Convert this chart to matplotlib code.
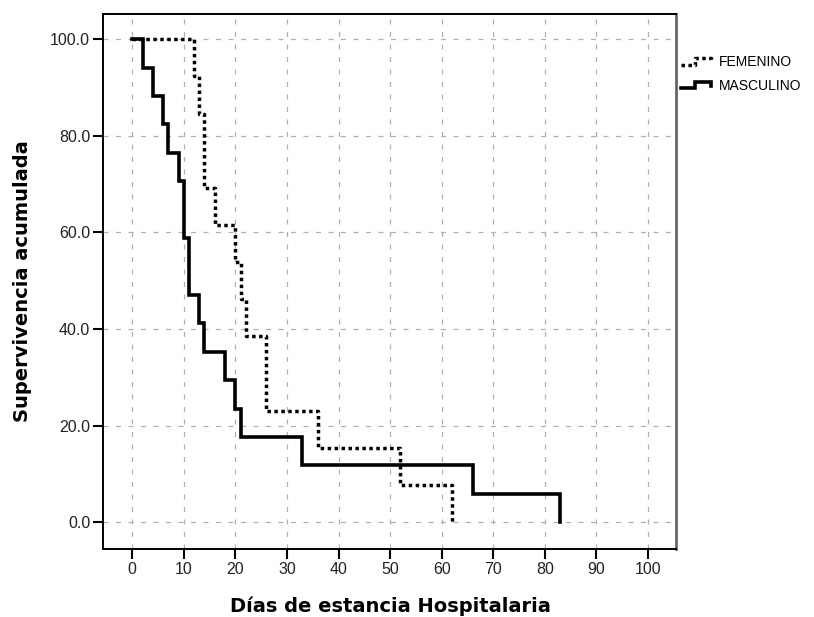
import numpy as np
import matplotlib
matplotlib.use("Agg")
from matplotlib import pyplot as plt
from matplotlib.lines import Line2D
from matplotlib.legend_handler import HandlerBase

# Datos (Kaplan-Meier, supervivencia acumulada en %)
dias_fem = [0, 12, 13, 14, 16, 20, 21, 22, 26, 36, 52, 62]
surv_fem = [100.0, 92.3, 84.6, 69.2, 61.5, 53.8, 46.2, 38.5, 23.1, 15.4, 7.7, 0.0]

dias_masc = [0, 2, 4, 6, 7, 9, 10, 11, 13, 14, 18, 20, 21, 33, 66, 83]
surv_masc = [100.0, 94.1, 88.2, 82.4, 76.5, 70.6, 58.8, 47.1, 41.2, 35.3,
             29.4, 23.5, 17.6, 11.8, 5.9, 0.0]

x_ticks = list(range(0, 101, 10))
y_ticks = [0, 20, 40, 60, 80, 100]


# icono escalonado de la leyenda (estilo SPSS)
class StepHandler(HandlerBase):
    def create_artists(self, legend, orig_handle, xdescent, ydescent,
                       width, height, fontsize, trans):
        xs = np.array([0, 0.45, 0.45, 0.95, 0.95]) * width - xdescent
        ys = np.array([0.15, 0.15, 0.8, 0.8, 0.4]) * height - ydescent
        line = Line2D(xs, ys)
        line.update_from(orig_handle)
        line.set_data(xs, ys)
        line.set_clip_box(None)
        line.set_clip_path(None)
        line.set_clip_on(False)
        line.set_transform(trans)
        return [line]


fig = plt.figure(figsize=(8.14, 6.17), dpi=100)
ax = fig.add_axes([0.127, 0.110, 0.704, 0.868])

l_fem, = ax.step(dias_fem, surv_fem, where='post', color='black',
                 lw=2.5, ls=(0, (1, 1)), label='FEMENINO')
l_masc, = ax.step(dias_masc, surv_masc, where='post', color='black',
                  lw=2.6, label='MASCULINO', solid_joinstyle='miter')

ax.set_xlim(-5.6, 105.5)
ax.set_ylim(-5.6, 105.3)
ax.set_xticks(x_ticks)
ax.set_yticks(y_ticks)
ax.set_yticklabels(["%.1f" % v for v in y_ticks])

# rejilla discontinua gris
ax.grid(True, color='#b0b0b0', ls=(0, (4, 6)), lw=0.9)
ax.set_axisbelow(True)

for s in ax.spines.values():
    s.set_linewidth(1.4)
    s.set_color('black')
ax.spines['right'].set_color('#666666')
ax.spines['right'].set_linewidth(2)

ax.tick_params(axis='both', which='major', direction='out', length=7,
               width=1.5, color='black', labelsize=11.5, pad=2.5)
for lab in ax.get_xticklabels() + ax.get_yticklabels():
    lab.set_family('Liberation Sans')
    lab.set_color('#222222')

fig.text(0.4795, 1 - 612 / 617, "Días de estancia Hospitalaria",
         ha='center', va='baseline', fontsize=14, fontweight='bold',
         family='DejaVu Sans')
fig.text(23 / 814, 1 - 281 / 617, "Supervivencia acumulada",
         ha='center', va='center', rotation=90, fontsize=14,
         fontweight='bold', family='DejaVu Sans')

leg = fig.legend(handles=[l_fem, l_masc], loc='upper left',
                 bbox_to_anchor=(681 / 814, 1 - 55 / 617),
                 frameon=False, borderpad=0, borderaxespad=0,
                 handlelength=2.3, handletextpad=0.4, labelspacing=0.7,
                 prop={'family': 'Liberation Sans', 'size': 10},
                 handler_map={Line2D: StepHandler()})

fig.savefig("out.png", dpi=100)
